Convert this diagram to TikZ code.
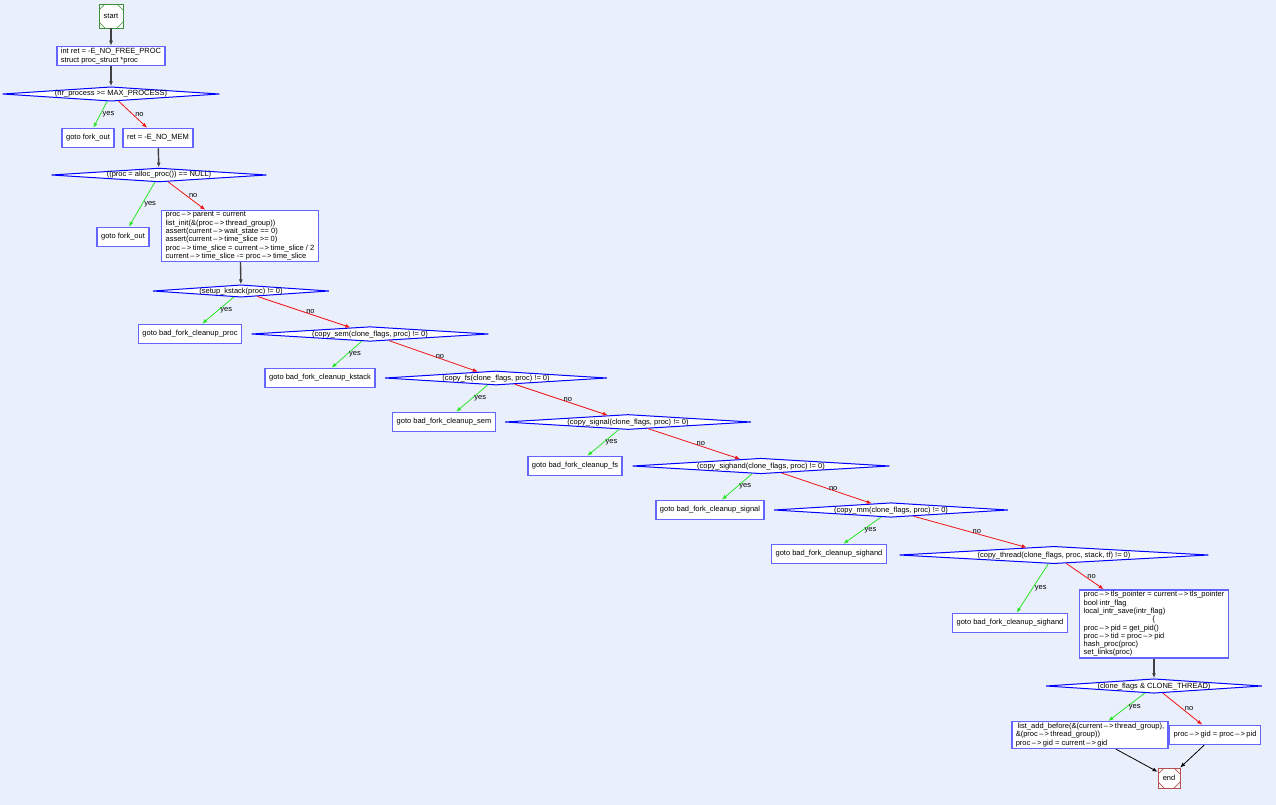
\documentclass[tikz,border=0pt]{standalone}
\usepackage{fontspec}
\setmainfont{Liberation Sans}
\usetikzlibrary{shapes.geometric, arrows.meta}

\definecolor{bgblue}{RGB}{234,240,251}
\definecolor{boxblue}{RGB}{100,100,255}
\definecolor{startgreen}{RGB}{60,140,60}
\definecolor{endred}{RGB}{180,80,80}
\definecolor{yesgreen}{RGB}{40,230,40}
\definecolor{nored}{RGB}{240,20,20}

% wide pointer arrow as printed in the chart
\newcommand{\arw}{\kern1.5pt\textendash\kern1pt>\kern1.5pt}

\tikzset{
    stmt/.style={draw=boxblue, fill=white, line width=1.5pt, align=left,
        inner xsep=4pt, inner ysep=1.5pt, minimum height=19pt},
    cond/.style={diamond, draw=blue, fill=white, line width=1pt,
        aspect=14, inner sep=0pt, text height=5.2pt, text depth=1.2pt},
    terminal/.style={rectangle, draw=#1, fill=white, line width=0.9pt,
        minimum width=24pt, minimum height=24pt, inner sep=0pt,
        path picture={
            \draw[#1, line width=0.7pt] (path picture bounding box.north west) ++(0pt,-6pt) -- ++(6pt,6pt);
            \draw[#1, line width=0.7pt] (path picture bounding box.north east) ++(0pt,-6pt) -- ++(-6pt,6pt);
            \draw[#1, line width=0.7pt] (path picture bounding box.south west) ++(0pt,6pt) -- ++(6pt,-6pt);
            \draw[#1, line width=0.7pt] (path picture bounding box.south east) ++(0pt,6pt) -- ++(-6pt,-6pt);
        }},
    flow/.style={-{Latex[length=5pt,width=4pt]}, line width=1.4pt, black!75},
    yesedge/.style={-{Latex[length=5pt,width=4pt]}, line width=0.8pt, yesgreen},
    noedge/.style={-{Latex[length=5pt,width=4pt]}, line width=0.8pt, nored},
    lbl/.style={midway, right=2pt, inner sep=0pt, text=black}
}

\begin{document}
\begin{tikzpicture}[x=1pt, y=-1pt, font=\fontsize{7.5}{8.3}\selectfont]
    \fill[bgblue] (0,0) rectangle (1276,805);
    \useasboundingbox (0,0) rectangle (1276,805);

    % start and setup
    \node[terminal=startgreen] (start) at (111,16) {start};
    \node[stmt] (init) at (111,56) {int ret = -E\_NO\_FREE\_PROC\\struct proc\_struct *proc};

    % allocation checks
    \node[cond, minimum width=217pt] (d1) at (111,94) {(nr\_process >= MAX\_PROCESS)};
    \node[stmt] (y1) at (88,138) {goto fork\_out};
    \node[stmt] (n1) at (158,138) {ret = -E\_NO\_MEM};
    \node[cond, minimum width=215pt] (d2) at (159,175) {((proc = alloc\_proc()) == NULL)};
    \node[stmt] (y2) at (123,237) {goto fork\_out};
    \node[stmt] (n2) at (240,236) {proc\arw parent = current\\
        list\_init(\&(proc\arw thread\_group))\\
        assert(current\arw wait\_state == 0)\\
        assert(current\arw time\_slice >= 0)\\
        proc\arw time\_slice = current\arw time\_slice / 2\\
        current\arw time\_slice -= proc\arw time\_slice};

    % copy chain
    \node[cond, minimum width=176pt] (d3) at (241,291) {(setup\_kstack(proc) != 0)};
    \node[stmt] (y3) at (190,334) {goto bad\_fork\_cleanup\_proc};
    \node[cond, minimum width=237pt] (d4) at (370,334) {(copy\_sem(clone\_flags, proc) != 0)};
    \node[stmt] (y4) at (320,378) {goto bad\_fork\_cleanup\_kstack};
    \node[cond, minimum width=222pt] (d5) at (496,378) {(copy\_fs(clone\_flags, proc) != 0)};
    \node[stmt] (y5) at (444,422) {goto bad\_fork\_cleanup\_sem};
    \node[cond, minimum width=246pt] (d6) at (628,422) {(copy\_signal(clone\_flags, proc) != 0)};
    \node[stmt] (y6) at (575,466) {goto bad\_fork\_cleanup\_fs};
    \node[cond, minimum width=257pt] (d7) at (761,466) {(copy\_sighand(clone\_flags, proc) != 0)};
    \node[stmt] (y7) at (710,510) {goto bad\_fork\_cleanup\_signal};
    \node[cond, minimum width=234pt] (d8) at (891,510) {(copy\_mm(clone\_flags, proc) != 0)};
    \node[stmt] (y8) at (829,554) {goto bad\_fork\_cleanup\_sighand};
    \node[cond, minimum width=309pt] (d9) at (1054,555) {(copy\_thread(clone\_flags, proc, stack, tf) != 0)};
    \node[stmt] (y9) at (1010,623) {goto bad\_fork\_cleanup\_sighand};
    \node[stmt] (n9) at (1154,624) {proc\arw tls\_pointer = current\arw tls\_pointer\\
        bool intr\_flag\\
        local\_intr\_save(intr\_flag)\\
        \hspace*{69pt}\{\\
        proc\arw pid = get\_pid()\\
        proc\arw tid = proc\arw pid\\
        hash\_proc(proc)\\
        set\_links(proc)};

    % thread group
    \node[cond, minimum width=216pt] (d10) at (1154,686) {(clone\_flags \& CLONE\_THREAD)};
    \node[stmt] (y10) at (1090,735) {\hspace*{2pt}list\_add\_before(\&(current\arw thread\_group),\\
        \&(proc\arw thread\_group))\\
        proc\arw gid = current\arw gid};
    \node[stmt] (n10) at (1215,735) {proc\arw gid = proc\arw pid};
    \node[terminal=endred, minimum width=22pt, minimum height=20pt] (end) at (1169,778) {end};

    % straight flow
    \draw[flow] (start) -- (init);
    \draw[flow] (init) -- (d1);
    \draw[flow] (n1) -- (d2);
    \draw[flow] (n2) -- (d3);
    \draw[flow] (n9) -- (d10);

    % branches
    \foreach \d/\y/\n in {d1/y1/n1, d2/y2/n2, d3/y3/d4, d4/y4/d5, d5/y5/d6,
        d6/y6/d7, d7/y7/d8, d8/y8/d9, d9/y9/n9, d10/y10/n10} {
        \draw[yesedge] (\d) -- (\y) node[lbl] {yes};
        \draw[noedge] (\d) -- (\n) node[lbl] {no};
    }

    \draw[flow, line width=0.8pt, black] (y10) -- (end);
    \draw[flow, line width=0.8pt, black] (n10) -- (end);
\end{tikzpicture}
\end{document}
